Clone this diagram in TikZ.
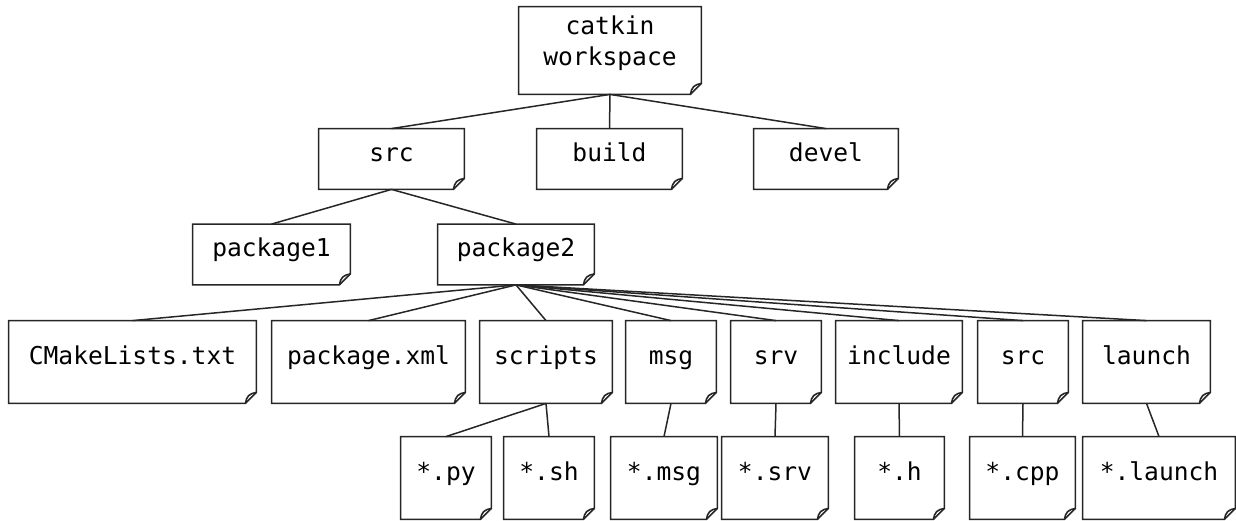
\documentclass[tikz,border=0pt]{standalone}
\usepackage{fontspec}
\newfontfamily\dirfont{DejaVu Sans Mono}
\newcommand\dirsize{\dirfont\fontsize{12.3pt}{15.5pt}\selectfont}
\tikzset{dir/.style={inner sep=0pt,font=\dirsize,text height=9.2pt,text depth=7pt},
  wsdir/.style={inner sep=0pt,font=\dirsize,align=center},
  outline/.style={draw=black!85,line width=0.8pt,line join=miter},
  edge/.style={draw=black!85,line width=0.75pt}}

\begin{document}
\begin{tikzpicture}[x=0.5pt,y=-0.5pt]
    \useasboundingbox (0,0) rectangle (1236,520);

    % top
    \node[wsdir,minimum width=91pt,minimum height=43.5pt] (ws) at (610,50.5) {catkin\\workspace\rule[-10pt]{0pt}{10pt}};

    % first level
    \node[dir,minimum width=72.5pt,minimum height=30pt] (src) at (391.5,159) {src};
    \node[dir,minimum width=72.5pt,minimum height=30pt] (build) at (609.5,159) {build};
    \node[dir,minimum width=72pt,minimum height=30pt] (devel) at (826,159) {devel};

    % packages
    \node[dir,minimum width=78.5pt,minimum height=30pt] (pkga) at (271.5,254.5) {package1};
    \node[dir,minimum width=78pt,minimum height=30pt] (pkgb) at (516,254.5) {package2};

    % contents of package2
    \node[dir,minimum width=123.5pt,minimum height=41pt] (cmake) at (132.5,362) {CMakeLists.txt};
    \node[dir,minimum width=96.5pt,minimum height=41pt] (pkgxml) at (368.5,362) {package.xml};
    \node[dir,minimum width=66pt,minimum height=41pt] (scripts) at (546,362) {scripts};
    \node[dir,minimum width=45pt,minimum height=41pt] (msg) at (671,362) {msg};
    \node[dir,minimum width=45pt,minimum height=41pt] (srv) at (776,362) {srv};
    \node[dir,minimum width=63pt,minimum height=41pt] (include) at (899,362) {include};
    \node[dir,minimum width=45pt,minimum height=41pt] (srcdir) at (1023,362) {src};
    \node[dir,minimum width=63.5pt,minimum height=41pt] (launch) at (1146.5,362) {launch};

    % files
    \node[dir,minimum width=45pt,minimum height=41pt] (py) at (446,478) {*.py};
    \node[dir,minimum width=45pt,minimum height=41pt] (sh) at (549,478) {*.sh};
    \node[dir,minimum width=53pt,minimum height=41pt] (msgfile) at (664,478) {*.msg};
    \node[dir,minimum width=53pt,minimum height=41pt] (srvfile) at (775,478) {*.srv};
    \node[dir,minimum width=44.5pt,minimum height=41pt] (hfile) at (899.5,478) {*.h};
    \node[dir,minimum width=52.5pt,minimum height=41pt] (cppfile) at (1022.5,478) {*.cpp};
    \node[dir,minimum width=76pt,minimum height=41pt] (launchfile) at (1159,478) {*.launch};

    % note outlines with folded corner
    \foreach \n in {ws,src,build,devel,pkga,pkgb,cmake,pkgxml,scripts,msg,srv,include,srcdir,launch,py,sh,msgfile,srvfile,hfile,cppfile,launchfile} {
        \draw[outline] (\n.north west) -- (\n.north east) -- ([yshift=5.5pt]\n.south east) -- ([xshift=-5.5pt]\n.south east) -- (\n.south west) -- cycle;
        \draw[outline] ([xshift=-5.5pt]\n.south east) .. controls ([xshift=-5pt,yshift=3.5pt]\n.south east) and ([xshift=-3.5pt,yshift=5pt]\n.south east) .. ([yshift=5.5pt]\n.south east);
    }

    \foreach \a/\b in {ws/src,ws/build,ws/devel,src/pkga,src/pkgb,pkgb/cmake,pkgb/pkgxml,pkgb/scripts,pkgb/msg,pkgb/srv,pkgb/include,pkgb/srcdir,pkgb/launch,scripts/py,scripts/sh,msg/msgfile,srv/srvfile,include/hfile,srcdir/cppfile,launch/launchfile}
        \draw[edge] (\a.south) -- (\b.north);
\end{tikzpicture}
\end{document}
